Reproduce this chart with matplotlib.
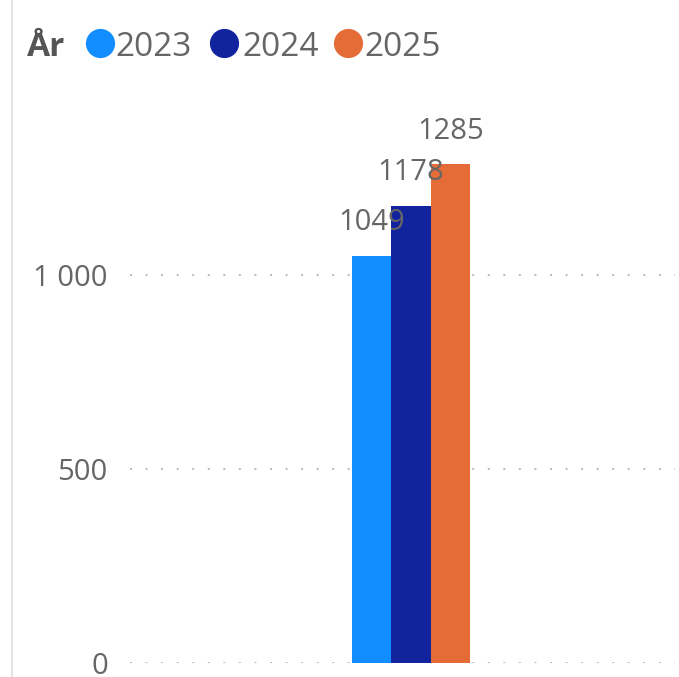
import matplotlib
matplotlib.use("Agg")
import matplotlib.pyplot as plt
from matplotlib.lines import Line2D

years = ["2023", "2024", "2025"]
values = [1049, 1178, 1285]
colors = ["#118DFF", "#12239E", "#E66C37"]
yticks = [0, 500, 1000]
ytick_labels = ["0", "500", "1 000"]

plt.rcParams['font.family'] = ['Open Sans', 'DejaVu Sans']

W, H = 679, 677
fig = plt.figure(figsize=(W / 100, H / 100), dpi=100)

ax_left, ax_right, ax_top, ax_bottom = 130, 675, 100, 663
ax = fig.add_axes([ax_left / W, 1 - ax_bottom / H, (ax_right - ax_left) / W, (ax_bottom - ax_top) / H])

px_per_unit = 0.388
ax.set_ylim(0, (ax_bottom - ax_top) / px_per_unit)
bar_px = 39.3
center_px = 411
ax.set_xlim((ax_left - center_px) / bar_px, (ax_right - center_px) / bar_px)

positions = [-1, 0, 1]
ax.bar(positions, values, width=1.0, color=colors, zorder=3)

for p, v in zip(positions, values):
    ax.annotate(str(v), (p, v), xytext=(0, 18.5), textcoords="offset points",
                ha="center", va="baseline", fontsize=21, color="#666666", zorder=4)

for t in yticks:
    ax.axhline(t, color="#b8b8b8", linewidth=1.4, linestyle=(0, (1, 7)), zorder=1)

ax.set_yticks(yticks)
ax.set_yticklabels(ytick_labels, fontsize=21, color="#666666")
ax.tick_params(axis="y", length=0, pad=16)
ax.set_xticks([])
for s in ax.spines.values():
    s.set_visible(False)

# left border line
fig.add_artist(Line2D([12 / W, 12 / W], [0, 1], color="#e3e3e3", linewidth=1.5,
                      transform=fig.transFigure))

# legend
ly = 1 - 43 / H
fig.text(27 / W, 1 - 44 / H, "År", fontsize=24, fontweight="bold", color="#555555",
         ha="left", va="center_baseline")
circ_x = [100, 224, 348]
text_x = [115, 242, 364]
for cx, tx, lab, c in zip(circ_x, text_x, years, colors):
    fig.add_artist(Line2D([cx / W], [ly], marker="o", markersize=20, color=c,
                          linestyle="none", transform=fig.transFigure))
    fig.text(tx / W, 1 - 44 / H, lab, fontsize=24, color="#666666", ha="left",
             va="center_baseline")

fig.savefig("out.png", dpi=100)
